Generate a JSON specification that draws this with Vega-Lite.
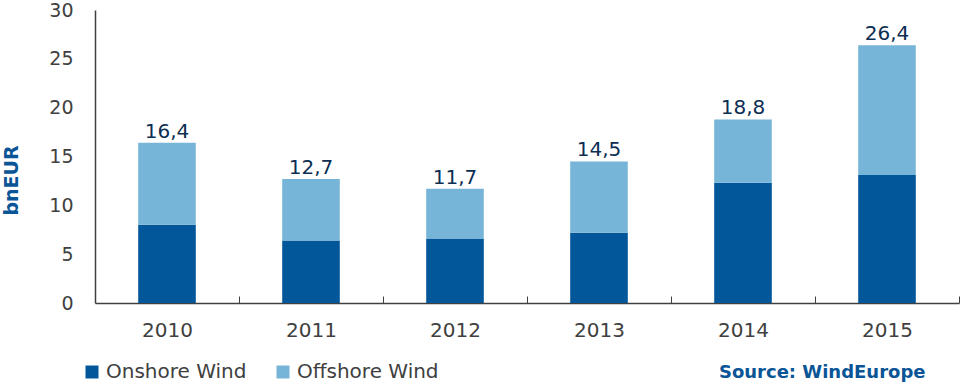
{
  "$schema": "https://vega.github.io/schema/vega-lite/v6.json",
  "width": 864,
  "height": 293,
  "autosize": "none",
  "padding": {"left": 95, "top": 10, "right": 1, "bottom": 80},
  "background": "white",
  "config": {
    "view": {"stroke": null},
    "font": "DejaVu Sans",
    "locale": {"number": {"decimal": ",", "thousands": ".", "grouping": [3], "currency": ["", " €"]}}
  },
  "title": {
    "text": "Source: WindEurope",
    "orient": "bottom",
    "anchor": "end",
    "font": "DejaVu Sans",
    "fontSize": 18,
    "fontWeight": "bold",
    "color": "#0a5596",
    "dx": -34,
    "offset": -18
  },
  "data": {
    "values": [
      {"year": "2010", "type": "Onshore Wind", "value": 8.0},
      {"year": "2010", "type": "Offshore Wind", "value": 8.4},
      {"year": "2011", "type": "Onshore Wind", "value": 6.4},
      {"year": "2011", "type": "Offshore Wind", "value": 6.3},
      {"year": "2012", "type": "Onshore Wind", "value": 6.6},
      {"year": "2012", "type": "Offshore Wind", "value": 5.1},
      {"year": "2013", "type": "Onshore Wind", "value": 7.2},
      {"year": "2013", "type": "Offshore Wind", "value": 7.3},
      {"year": "2014", "type": "Onshore Wind", "value": 12.3},
      {"year": "2014", "type": "Offshore Wind", "value": 6.5},
      {"year": "2015", "type": "Onshore Wind", "value": 13.1},
      {"year": "2015", "type": "Offshore Wind", "value": 13.3}
    ]
  },
  "encoding": {
    "x": {
      "field": "year",
      "type": "ordinal",
      "scale": {"paddingInner": 0.6, "paddingOuter": 0.3},
      "axis": {
        "title": null,
        "labelAngle": 0,
        "labelFont": "DejaVu Sans",
        "labelFontSize": 20,
        "labelColor": "#404040",
        "domainColor": "#404040",
        "domainWidth": 1.5,
        "tickColor": "#404040",
        "tickOffset": 72,
        "labelOffset": -72,
        "tickSize": -7,
        "labelPadding": 24
      }
    }
  },
  "layer": [
    {
      "mark": {"type": "bar"},
      "encoding": {
        "y": {
          "field": "value",
          "type": "quantitative",
          "stack": "zero",
          "scale": {"domain": [0, 30], "nice": false},
          "axis": {
            "title": "bnEUR",
            "values": [0, 5, 10, 15, 20, 25, 30],
            "grid": false,
            "ticks": false,
            "labelPadding": 22,
            "labelFont": "DejaVu Sans",
            "labelFontSize": 19,
            "labelColor": "#404040",
            "domainColor": "#404040",
            "domainWidth": 1.5,
            "titleFont": "DejaVu Sans",
            "titleFontSize": 19,
            "titleFontWeight": "bold",
            "titleColor": "#0a5596",
            "titleX": -78,
            "titleY": 170,
            "titleAngle": -90,
            "titleBaseline": "alphabetic"
          }
        },
        "color": {
          "field": "type",
          "type": "nominal",
          "sort": ["Onshore Wind", "Offshore Wind"],
          "scale": {"domain": ["Onshore Wind", "Offshore Wind"], "range": ["#02569a", "#77b5d8"]},
          "legend": {
            "title": null,
            "orient": "none",
            "direction": "horizontal",
            "legendX": -13,
            "legendY": 352,
            "symbolType": "square",
            "symbolSize": 169,
            "symbolStrokeWidth": 0,
            "labelFont": "DejaVu Sans",
            "labelFontSize": 20,
            "labelColor": "#404040",
            "columnPadding": 26,
            "labelOffset": 4
          }
        },
        "order": {"field": "type", "sort": "descending"}
      }
    },
    {
      "transform": [{"aggregate": [{"op": "sum", "field": "value", "as": "total"}], "groupby": ["year"]}],
      "mark": {"type": "text", "baseline": "alphabetic", "dy": -5, "font": "DejaVu Sans", "fontSize": 20, "color": "#0c2e52"},
      "encoding": {
        "y": {"field": "total", "type": "quantitative"},
        "text": {"field": "total", "type": "quantitative", "format": ".1f"}
      }
    }
  ]
}
